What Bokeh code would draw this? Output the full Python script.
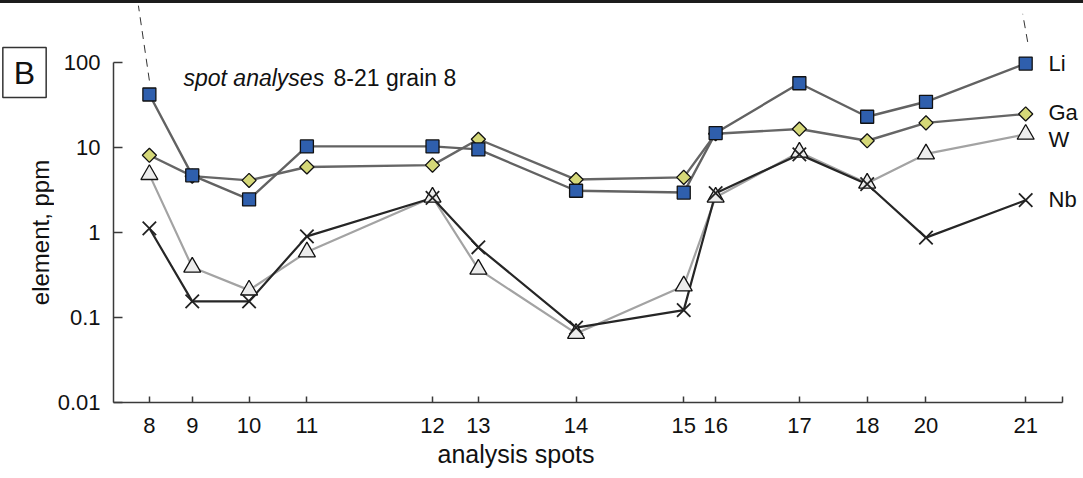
import math
from bokeh.plotting import figure
from bokeh.layouts import row
from bokeh.models import Range1d, FixedTicker, Label, ColumnDataSource, Title
from bokeh.core.properties import value
from bokeh.embed import file_html
from bokeh.resources import INLINE

# ---- data ----
spots = ["8", "9", "10", "11", "12", "13", "14", "15", "16", "17", "18", "20", "21"]
spot_pos = [36, 79, 136, 194, 320, 366, 464, 572, 604, 688, 756, 815, 915]  # distance along traverse
axis_end = 952
li = [42, 4.7, 2.45, 10.3, 10.3, 9.5, 3.1, 2.95, 14.8, 57, 23, 34.5, 97]
ga = [8.1, 4.6, 4.1, 5.9, 6.2, 12.5, 4.2, 4.45, 14.5, 16.5, 12.0, 19.5, 24.8]
w = [4.8, 0.39, 0.21, 0.59, 2.6, 0.37, 0.065, 0.235, 2.6, 8.8, 3.8, 8.4, 14.3]
nb = [1.12, 0.155, 0.155, 0.9, 2.55, 0.67, 0.076, 0.122, 2.9, 8.3, 3.7, 0.87, 2.4]
y_ticks = [0.01, 0.1, 1, 10, 100]
y_tick_labels = ["0.01", "0.1", "1", "10", "100"]

FONT = "Liberation Sans"
TOPBAR = 3                       # dark rule along the top edge
H = 478 - TOPBAR                 # figure height
LEFT_W = 54                      # narrow panel holding the panel letter and y title
LEFT, BOTTOM = 110, 402          # frame left edge / bottom edge on the page
PX_PER_DECADE = 85.0
FRAME_H = BOTTOM - TOPBAR
Y_TOP = 10 ** (-2 + FRAME_H / PX_PER_DECADE)
MAIN_W = 1083 - LEFT_W

# ---------------- left strip (its frame is aligned with the main frame) ----------------
pl = figure(width=LEFT_W, height=H, title=None, x_range=Range1d(0, LEFT_W), y_range=Range1d(0, FRAME_H),
            x_axis_location=None, y_axis_location=None, output_backend="svg",
            toolbar_location=None, min_border=0, min_border_bottom=478 - BOTTOM)
pl.outline_line_color = None
pl.xgrid.visible = False
pl.ygrid.visible = False

pl.add_layout(Label(x=24, y=BOTTOM - 72, text="B", text_font=FONT, text_font_size="32px",
                    text_color="#111111", text_align="center", text_baseline="middle",
                    border_line_color="#333333", border_line_width=1.5,
                    background_fill_color="white",
                    padding=dict(left=11, right=11, top=7, bottom=7)))
pl.text(x=[40], y=[BOTTOM - 232], text=["element, ppm"], angle=math.pi / 2,
        text_font=value(FONT), text_font_size="24px", text_color="#111111",
        text_align="center", text_baseline="middle")

# ---------------- main plot ----------------
p = figure(width=MAIN_W, height=H, title=None,
           x_range=Range1d(0, MAIN_W - (LEFT - LEFT_W)), y_range=Range1d(0.01, Y_TOP),
           y_axis_type="log", output_backend="svg", toolbar_location=None,
           min_border_left=LEFT - LEFT_W, min_border_right=0,
           min_border_top=0, min_border_bottom=478 - BOTTOM)
p.outline_line_color = None
p.xgrid.visible = False
p.ygrid.visible = False
p.background_fill_color = "white"
p.border_fill_color = "white"

ya = p.yaxis[0]
ya.ticker = FixedTicker(ticks=y_ticks, minor_ticks=[])
ya.major_label_overrides = {t: l for t, l in zip(y_ticks, y_tick_labels)}
ya.bounds = (0.01, 100)
ya.major_tick_in = 9
ya.major_tick_out = 0
ya.minor_tick_line_color = None
ya.major_label_standoff = 13
ya.major_label_text_font = FONT
ya.major_label_text_font_size = "22px"
ya.major_label_text_color = "#111111"
ya.axis_line_color = "#3a3a3a"
ya.axis_line_width = 1.5
ya.major_tick_line_color = "#3a3a3a"
ya.major_tick_line_width = 1.5

xa = p.xaxis[0]
xa.ticker = FixedTicker(ticks=spot_pos + [axis_end], minor_ticks=[])
ov = {pos: s for pos, s in zip(spot_pos, spots)}
ov[axis_end] = ""
xa.major_label_overrides = ov
xa.bounds = (0, axis_end)
xa.major_tick_in = 6
xa.major_tick_out = 0
xa.minor_tick_line_color = None
xa.major_label_standoff = 15
xa.major_label_text_font = FONT
xa.major_label_text_font_size = "22px"
xa.major_label_text_color = "#111111"
xa.axis_line_color = "#3a3a3a"
xa.axis_line_width = 1.5
xa.major_tick_line_color = "#3a3a3a"
xa.major_tick_line_width = 1.5

# x-axis title placed under the axis, offset from the frame's left edge
p.add_layout(Title(text="analysis spots", align="left", offset=324, standoff=4,
                   text_font=FONT, text_font_size="25px", text_font_style="normal",
                   text_color="#111111"), "below")

# leader (dashed) lines from the first and last Li analyses toward the grain image
p.line([spot_pos[0], spot_pos[0] - 11], [li[0] * 1.46, li[0] * 11.1],
       line_color="#333333", line_width=1, line_dash="8 6")
p.line([spot_pos[-1] + 2, spot_pos[-1] - 3], [li[-1] * 1.8, li[-1] * 3.85],
       line_color="#333333", line_width=1, line_dash="8 6")

src = ColumnDataSource(dict(x=spot_pos, li=li, ga=ga, w=w, nb=nb))

p.line("x", "w", source=src, line_color="#a3a3a3", line_width=2.2)
p.line("x", "nb", source=src, line_color="#262626", line_width=2.2)
p.line("x", "ga", source=src, line_color="#666666", line_width=2.4)
p.line("x", "li", source=src, line_color="#626262", line_width=2.4)

p.scatter("x", "w", source=src, marker="triangle", size=17,
          fill_color="#ececec", line_color="#111111", line_width=1.3)
p.scatter("x", "nb", source=src, marker="x", size=19,
          line_color="#222222", line_width=1.8)
p.scatter("x", "ga", source=src, marker="square", size=10, angle=math.pi / 4,
          fill_color="#d5d878", line_color="#111111", line_width=1.3)
p.scatter("x", "li", source=src, marker="square", size=13,
          fill_color="#2f5fad", line_color="#111111", line_width=1.3)


def lab(text, px, py, size="23px", align="left", baseline="middle", style="normal", **kw):
    # screen units are measured from the frame's bottom-left corner, y upward
    p.add_layout(Label(x=px - LEFT, y=BOTTOM - py, x_units="screen", y_units="screen",
                       text=text, text_font=FONT, text_font_size=size,
                       text_align=align, text_baseline=baseline, text_font_style=style,
                       text_color="#111111", **kw))


lab("Li", 1045, 63, size="22px")
lab("Ga", 1045, 112, size="22px")
lab("W", 1045, 139, size="22px")
lab("Nb", 1045, 199, size="22px")

lab("spot analyses", 180, 77, baseline="alphabetic", style="italic")
lab("8-21 grain 8", 330, 77, baseline="alphabetic")

layout = row(pl, p, styles={"border-top": "%dpx solid #1c1c1c" % TOPBAR})
open("out.html", "w").write(file_html(layout, INLINE))
